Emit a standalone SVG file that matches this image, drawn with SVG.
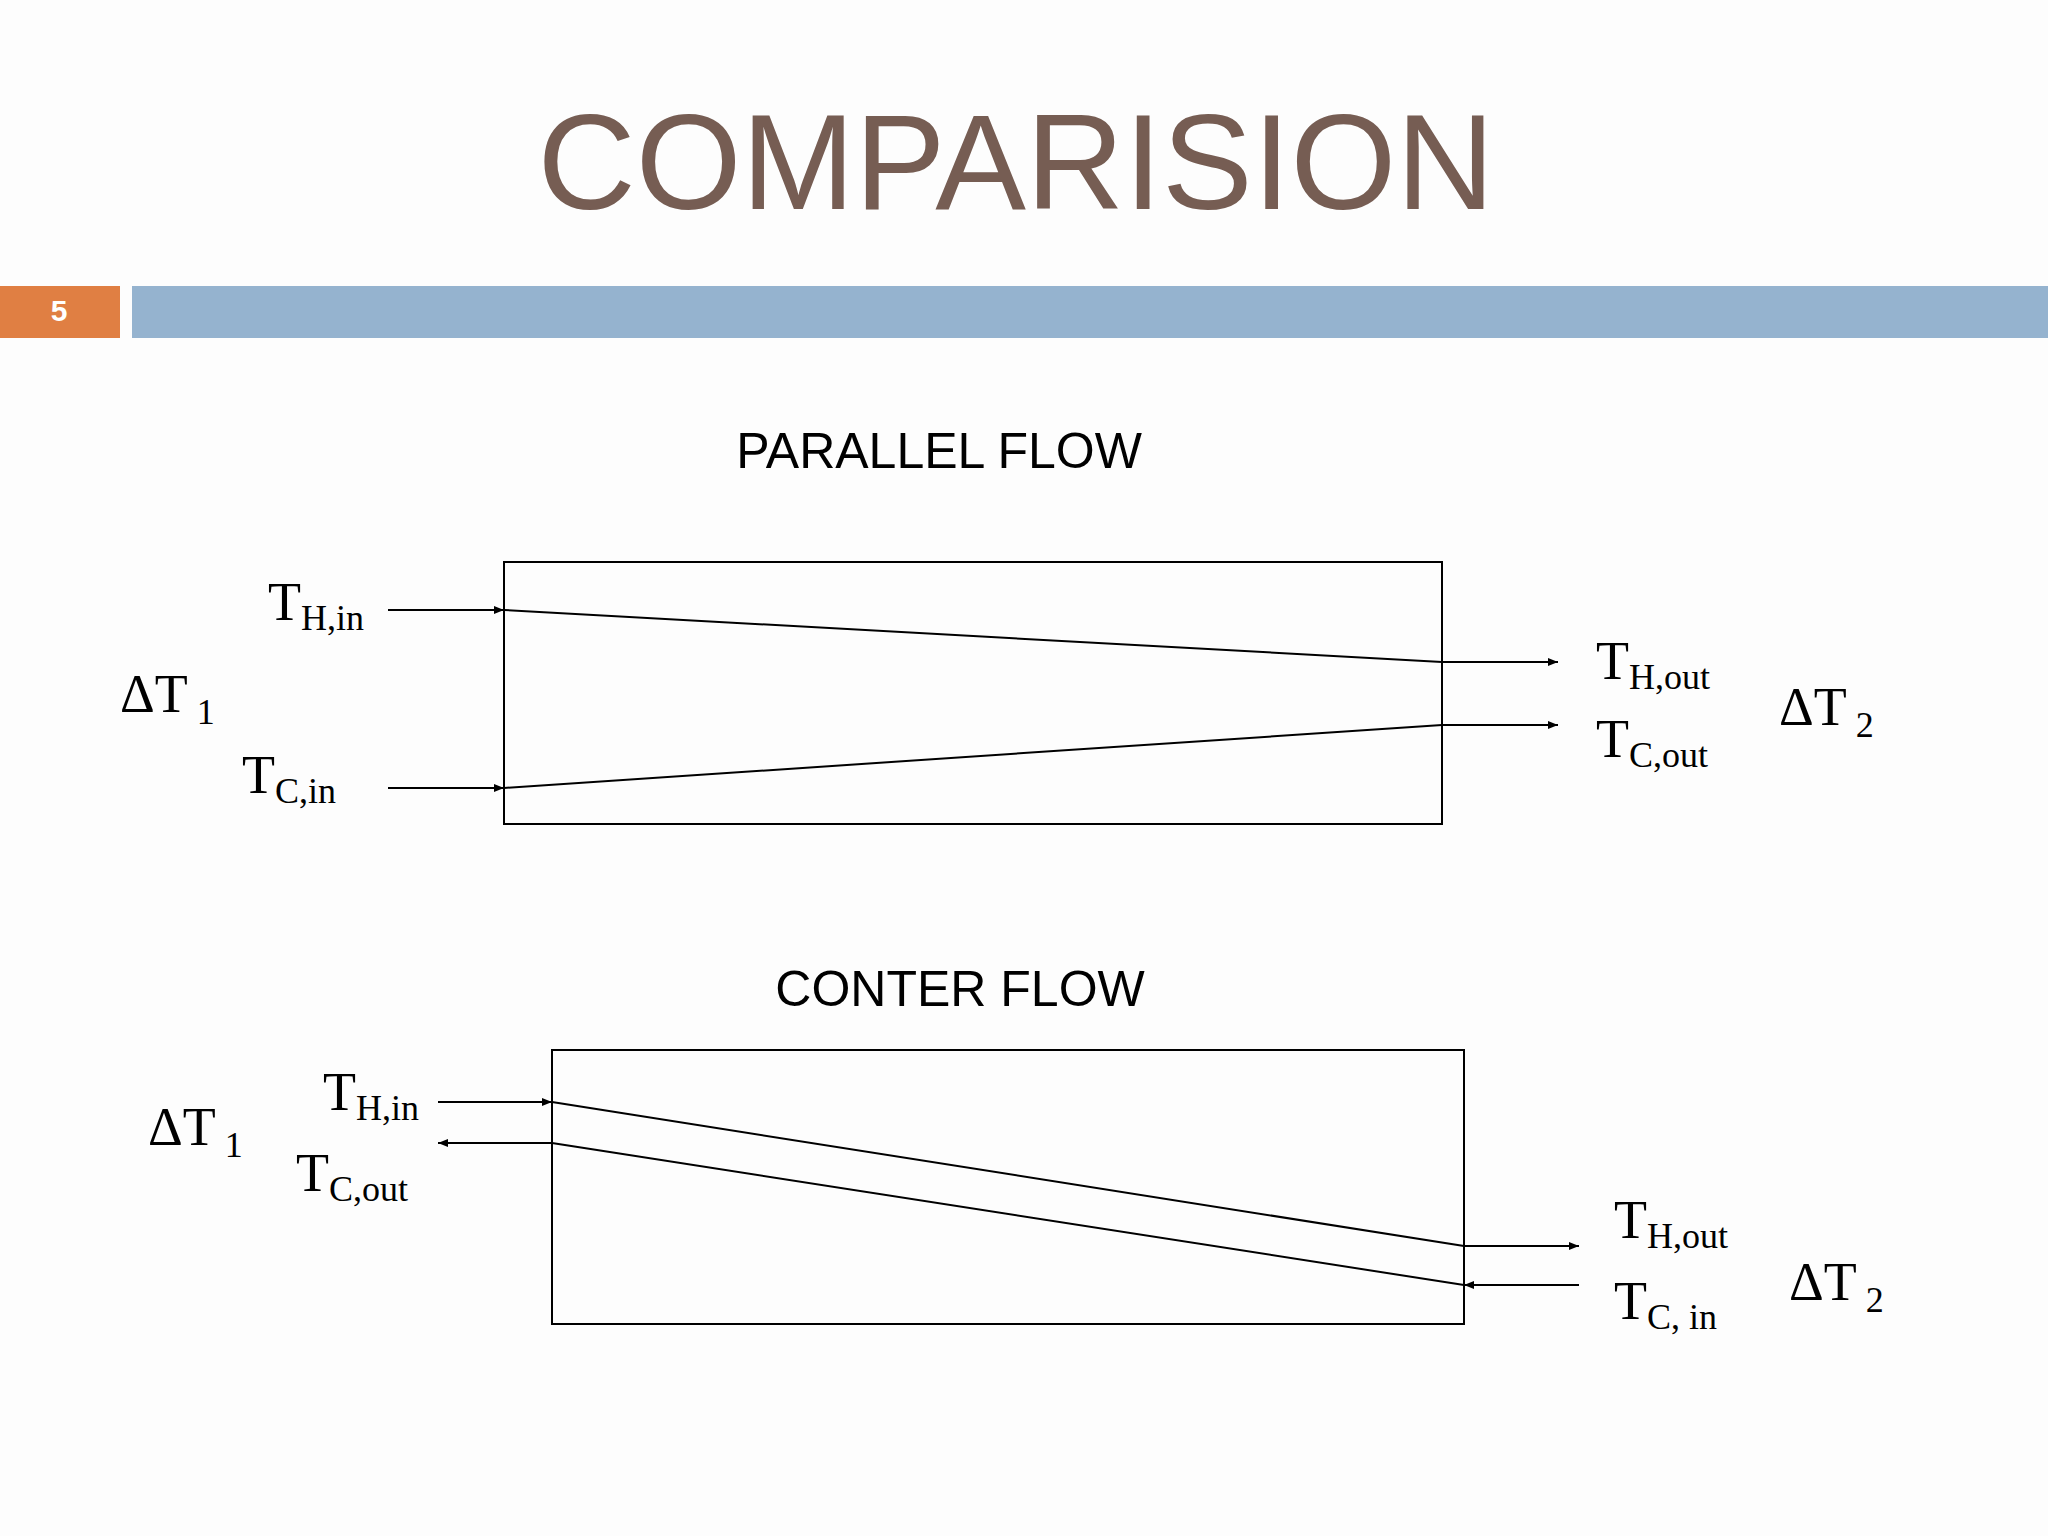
<svg xmlns="http://www.w3.org/2000/svg" width="2048" height="1536" viewBox="0 0 2048 1536">
<defs>
<marker id="ah" markerWidth="10" markerHeight="8" refX="10" refY="4" orient="auto" markerUnits="userSpaceOnUse"><path d="M0,0 L10,4 L0,8 Z" fill="#000"/></marker>
<style>
.t{font-family:"Liberation Serif",serif;font-size:54px;fill:#000}
.s{font-size:36px}
.h{font-family:"Liberation Sans",sans-serif;font-size:50px;fill:#000;text-anchor:middle}
.ln{stroke:#000;stroke-width:2;fill:none}
.ar{stroke:#000;stroke-width:2;fill:none;marker-end:url(#ah)}
</style>
</defs>
<rect width="2048" height="1536" fill="#fdfdfd"/>
<text x="1016" y="209" font-family="Liberation Sans,sans-serif" font-size="136" fill="#765d53" text-anchor="middle">COMPARISION</text>
<rect x="0" y="286" width="120" height="52" fill="#e07f43"/>
<rect x="132" y="286" width="1916" height="52" fill="#95b3cf"/>
<text x="59" y="321" font-family="Liberation Sans,sans-serif" font-size="30" font-weight="bold" fill="#fff" text-anchor="middle">5</text>
<g id="parallel">
<text class="h" x="939" y="468">PARALLEL FLOW</text>
<rect class="ln" x="504" y="562" width="938" height="262"/>
</g>
<g id="counter">
<text class="h" x="960" y="1006">CONTER FLOW</text>
<rect class="ln" x="552" y="1050" width="912" height="274"/>
</g>
<g id="connectors">
<line class="ln" x1="504" y1="610" x2="1442" y2="662"/>
<line class="ln" x1="504" y1="788" x2="1442" y2="725"/>
<line class="ar" x1="388" y1="610" x2="504" y2="610"/>
<line class="ar" x1="388" y1="788" x2="504" y2="788"/>
<line class="ar" x1="1442" y1="662" x2="1558" y2="662"/>
<line class="ar" x1="1442" y1="725" x2="1558" y2="725"/>
<line class="ln" x1="552" y1="1102" x2="1464" y2="1246"/>
<line class="ln" x1="552" y1="1143" x2="1464" y2="1285"/>
<line class="ar" x1="438" y1="1102" x2="552" y2="1102"/>
<line class="ar" x1="552" y1="1143" x2="438" y2="1143"/>
<line class="ar" x1="1464" y1="1246" x2="1579" y2="1246"/>
<line class="ar" x1="1579" y1="1285" x2="1464" y2="1285"/>
</g>
<g id="labels">
<text class="t" x="268" y="620">T<tspan class="s" dy="10">H,in</tspan></text>
<text class="t" x="120" y="712">ΔT<tspan class="s" dy="12"> 1</tspan></text>
<text class="t" x="242" y="793">T<tspan class="s" dy="10">C,in</tspan></text>
<text class="t" x="1596" y="679">T<tspan class="s" dy="10">H,out</tspan></text>
<text class="t" x="1596" y="757">T<tspan class="s" dy="10">C,out</tspan></text>
<text class="t" x="1779" y="725">ΔT<tspan class="s" dy="12"> 2</tspan></text>
<text class="t" x="148" y="1145">ΔT<tspan class="s" dy="12"> 1</tspan></text>
<text class="t" x="323" y="1110">T<tspan class="s" dy="10">H,in</tspan></text>
<text class="t" x="296" y="1191">T<tspan class="s" dy="10">C,out</tspan></text>
<text class="t" x="1614" y="1238">T<tspan class="s" dy="10">H,out</tspan></text>
<text class="t" x="1614" y="1319">T<tspan class="s" dy="10">C, in</tspan></text>
<text class="t" x="1789" y="1300">ΔT<tspan class="s" dy="12"> 2</tspan></text>
</g>
</svg>
